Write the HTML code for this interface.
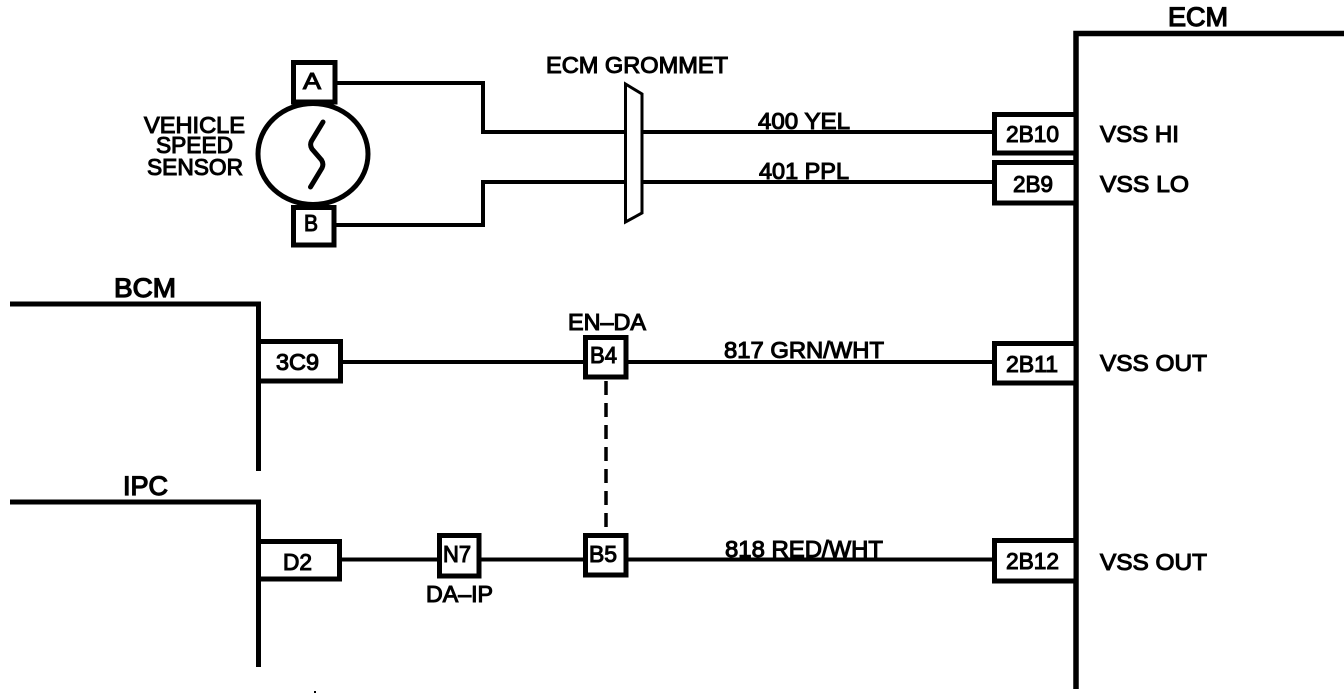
<!DOCTYPE html>
<html lang="en">
<head>
<meta charset="utf-8">
<title>Vehicle Speed Sensor Circuit</title>
<style>
html,body{margin:0;padding:0;background:#fff;}
svg{display:block;}
text{font-family:"Liberation Sans",sans-serif;font-size:23.500px;fill:#000;stroke:#000;stroke-width:1.100px;}
text.big{font-size:26.500px;stroke-width:1.300px;}
</style>
</head>
<body>
<svg xmlns="http://www.w3.org/2000/svg" width="1344" height="698" viewBox="0 0 1344 698">
<rect width="1344" height="698" fill="#fff" stroke="none"/>
<g fill="none" stroke="#000">
  <!-- ECM bracket -->
  <path d="M1344 33.500H1076V689" stroke-width="5.500"/>
  <!-- BCM / IPC brackets -->
  <path d="M10 304H258.500V471" stroke-width="5"/>
  <path d="M10 502H258.500V667" stroke-width="5"/>
  <!-- wires -->
  <path d="M337 83H483V132H992" stroke-width="4"/>
  <path d="M336 225H483V182H992" stroke-width="4"/>
  <path d="M343 362H992" stroke-width="4"/>
  <path d="M342 559.500H992" stroke-width="4"/>
  <path d="M606 379V533" stroke-width="3.500" stroke-dasharray="14 8" stroke-dashoffset="-2"/>
  <!-- grommet -->
  <path d="M625.500 84L642 94V213L625.500 222Z" fill="#fff" stroke-width="3"/>
  <!-- sensor -->
  <ellipse cx="313" cy="154" rx="55" ry="50.500" fill="#fff" stroke-width="5"/>
  <path d="M323 122L311.500 141Q309.500 145 312 149L321.500 160Q324 164 322 168L310.500 187" stroke-width="5" stroke-linecap="round" stroke-linejoin="round"/>
  <g fill="#fff" stroke-width="5">
    <rect x="293.500" y="62.500" width="41.500" height="39.500"/>
    <rect x="293.500" y="207.500" width="40.500" height="37.500"/>
    <!-- ECM pins -->
    <rect x="994.500" y="114.500" width="81.500" height="38.500"/>
    <rect x="994.500" y="162.500" width="81.500" height="40.500"/>
    <rect x="994.500" y="343.500" width="81.500" height="39.500"/>
    <rect x="994.500" y="540.500" width="81.500" height="40.500"/>
    <!-- BCM / IPC pins -->
    <rect x="258.500" y="341.500" width="82" height="39.500"/>
    <rect x="258.500" y="541.500" width="81" height="37.500"/>
    <!-- inline connectors -->
    <rect x="585.500" y="337.500" width="40.500" height="39.500"/>
    <rect x="585.500" y="535.500" width="40.500" height="39.500"/>
    <rect x="439.500" y="535.500" width="39.500" height="40.500"/>
  </g>
</g>
<rect x="314" y="691" width="2" height="2" fill="#000"/>

<g>
  <text class="big" x="1168" y="26" textLength="60" lengthAdjust="spacingAndGlyphs">ECM</text>
  <text x="144" y="133" textLength="101" lengthAdjust="spacingAndGlyphs">VEHICLE</text>
  <text x="156" y="153" textLength="77" lengthAdjust="spacingAndGlyphs">SPEED</text>
  <text x="147" y="175" textLength="96" lengthAdjust="spacingAndGlyphs">SENSOR</text>
  <text x="546" y="73" textLength="182" lengthAdjust="spacingAndGlyphs">ECM GROMMET</text>
  <text x="758" y="129" textLength="92" lengthAdjust="spacingAndGlyphs">400 YEL</text>
  <text x="759" y="179" textLength="90" lengthAdjust="spacingAndGlyphs">401 PPL</text>
  <text x="1006" y="142" textLength="53" lengthAdjust="spacingAndGlyphs">2B10</text>
  <text x="1013" y="192" textLength="40" lengthAdjust="spacingAndGlyphs">2B9</text>
  <text x="1100" y="142" textLength="79" lengthAdjust="spacingAndGlyphs">VSS HI</text>
  <text x="1100" y="192" textLength="89" lengthAdjust="spacingAndGlyphs">VSS LO</text>
  <text x="303" y="89" textLength="18" lengthAdjust="spacingAndGlyphs">A</text>
  <text x="304" y="231" textLength="14" lengthAdjust="spacingAndGlyphs">B</text>
  <text class="big" x="114" y="297" textLength="62" lengthAdjust="spacingAndGlyphs">BCM</text>
  <text class="big" x="123" y="495" textLength="45" lengthAdjust="spacingAndGlyphs">IPC</text>
  <text x="276" y="370" textLength="43" lengthAdjust="spacingAndGlyphs">3C9</text>
  <text x="283" y="570" textLength="29" lengthAdjust="spacingAndGlyphs">D2</text>
  <text x="568" y="330" textLength="78" lengthAdjust="spacingAndGlyphs">EN–DA</text>
  <text x="590" y="363" textLength="27" lengthAdjust="spacingAndGlyphs">B4</text>
  <text x="589" y="562" textLength="28" lengthAdjust="spacingAndGlyphs">B5</text>
  <text x="443" y="562" textLength="28" lengthAdjust="spacingAndGlyphs">N7</text>
  <text x="426" y="602" textLength="67" lengthAdjust="spacingAndGlyphs">DA–IP</text>
  <text x="724" y="358" textLength="160" lengthAdjust="spacingAndGlyphs">817 GRN/WHT</text>
  <text x="725" y="557" textLength="158" lengthAdjust="spacingAndGlyphs">818 RED/WHT</text>
  <text x="1006" y="372" textLength="52" lengthAdjust="spacingAndGlyphs">2B11</text>
  <text x="1006" y="569" textLength="53" lengthAdjust="spacingAndGlyphs">2B12</text>
  <text x="1100" y="371" textLength="107" lengthAdjust="spacingAndGlyphs">VSS OUT</text>
  <text x="1100" y="570" textLength="107" lengthAdjust="spacingAndGlyphs">VSS OUT</text>
</g>
</svg>
</body>
</html>
